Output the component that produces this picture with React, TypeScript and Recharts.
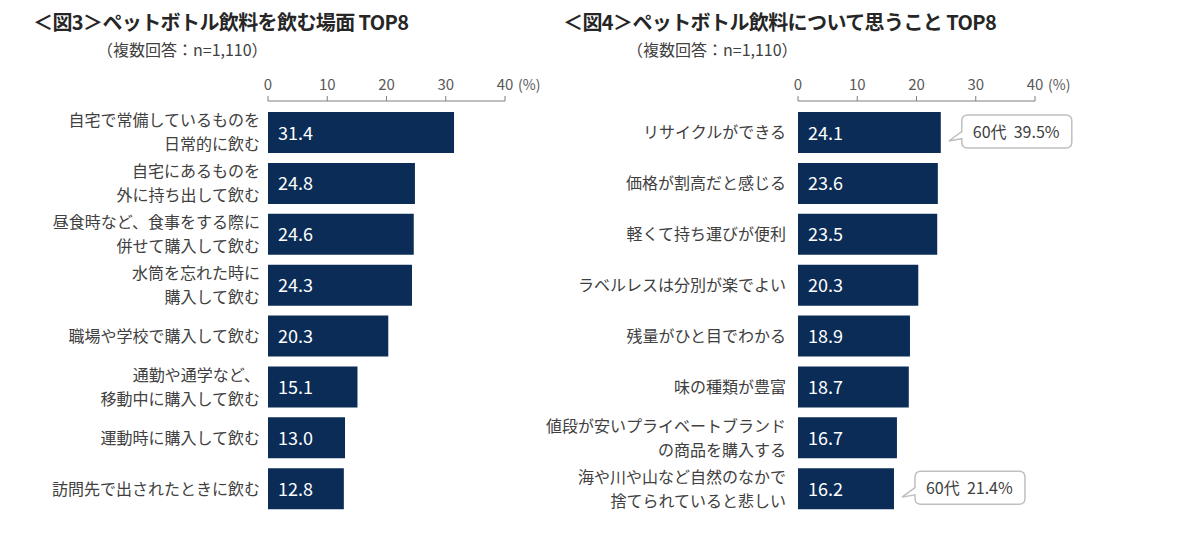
import { BarChart, Bar, XAxis, YAxis, LabelList } from 'recharts';

const sceneLabels = [
  '自宅で常備しているものを\n日常的に飲む',
  '自宅にあるものを\n外に持ち出して飲む',
  '昼食時など、食事をする際に\n併せて購入して飲む',
  '水筒を忘れた時に\n購入して飲む',
  '職場や学校で購入して飲む',
  '通勤や通学など、\n移動中に購入して飲む',
  '運動時に購入して飲む',
  '訪問先で出されたときに飲む',
];
const sceneValues = [31.4, 24.8, 24.6, 24.3, 20.3, 15.1, 13.0, 12.8];

const opinionLabels = [
  'リサイクルができる',
  '価格が割高だと感じる',
  '軽くて持ち運びが便利',
  'ラベルレスは分別が楽でよい',
  '残量がひと目でわかる',
  '味の種類が豊富',
  '値段が安いプライベートブランド\nの商品を購入する',
  '海や川や山など自然のなかで\n捨てられていると悲しい',
];
const opinionValues = [24.1, 23.6, 23.5, 20.3, 18.9, 18.7, 16.7, 16.2];
const opinionNotes = ['60代  39.5%', '', '', '', '', '', '', '60代  21.4%'];

const axisTicks = [0, 10, 20, 30, 40];

const FONT = '"Noto Sans CJK JP", "Noto Sans", sans-serif';
const NAVY = '#0a2c57';
const TEXT = '#404040';

const sceneData = sceneLabels.map((label, i) => ({ label, value: sceneValues[i], note: '' }));
const opinionData = opinionLabels.map((label, i) => ({
  label,
  value: opinionValues[i],
  note: opinionNotes[i],
}));

function PctTick(props: any) {
  const { x, y, payload } = props;
  return (
    <g>
      <text x={x} y={y} textAnchor="middle" fontSize={15} fill="#595959" fontFamily={FONT}>
        {payload.value}
      </text>
      {payload.value === 40 && (
        <text x={x + 13} y={y} textAnchor="start" fontSize={14} fill="#595959" fontFamily={FONT}>
          (%)
        </text>
      )}
    </g>
  );
}

function CatTick(props: any) {
  const { x, y, payload } = props;
  const lines = String(payload.value).split('\n');
  const lh = 24;
  return (
    <text x={x} y={y} textAnchor="end" fontSize={16} fill={TEXT} fontFamily={FONT}>
      {lines.map((l, i) => (
        <tspan key={i} x={x} dy={i === 0 ? -((lines.length - 1) * lh) / 2 + 6 : lh}>
          {l}
        </tspan>
      ))}
    </text>
  );
}

function ValueLabel(props: any) {
  const { x, y, height, value } = props;
  return (
    <text x={x + 10} y={y + height / 2 + 7} fontSize={18} fill="#ffffff" fontFamily={FONT}>
      {Number(value).toFixed(1)}
    </text>
  );
}

function Callout(props: any) {
  const { x, y, width, height, value } = props;
  if (!value) return null;
  const bx = x + width + 21;
  const by = y + 3;
  const w = 110;
  const h = 33;
  const r = 6;
  const tipX = x + width + 8;
  const tipY = y + height - 12;
  const d = [
    `M${bx + r},${by}`,
    `L${bx + w - r},${by}`,
    `Q${bx + w},${by} ${bx + w},${by + r}`,
    `L${bx + w},${by + h - r}`,
    `Q${bx + w},${by + h} ${bx + w - r},${by + h}`,
    `L${bx + r},${by + h}`,
    `Q${bx},${by + h} ${bx},${by + h - r}`,
    `L${bx},${by + h * 0.72}`,
    `L${tipX},${tipY}`,
    `L${bx},${by + h * 0.5}`,
    `L${bx},${by + r}`,
    `Q${bx},${by} ${bx + r},${by}`,
    'Z',
  ].join(' ');
  return (
    <g>
      <path d={d} fill="#ffffff" stroke="#bfbfbf" strokeWidth={1.5} />
      <text
        x={bx + 11}
        y={by + h / 2 + 6}
        fontSize={16}
        fill={TEXT}
        fontFamily={FONT}
        style={{ whiteSpace: 'pre' }}
      >
        {value}
      </text>
    </g>
  );
}

function Panel({ data, yWidth, width, tickMargin, notes }: any) {
  return (
    <BarChart
      width={width}
      height={541}
      data={data}
      layout="vertical"
      margin={{ top: 60, right: width - yWidth - 237, left: 0, bottom: 27 }}
    >
      <XAxis
        type="number"
        orientation="top"
        domain={[0, 40]}
        ticks={axisTicks}
        height={41}
        tick={<PctTick />}
        tickSize={5}
        tickMargin={6}
        stroke="#7f7f7f"
        interval={0}
      />
      <YAxis
        type="category"
        dataKey="label"
        width={yWidth}
        axisLine={false}
        tickLine={false}
        tickSize={0}
        tickMargin={tickMargin}
        padding={{ top: 6, bottom: 0 }}
        tick={<CatTick />}
        interval={0}
      />
      <Bar dataKey="value" fill={NAVY} barSize={41} isAnimationActive={false}>
        <LabelList dataKey="value" content={<ValueLabel />} />
        {notes && <LabelList dataKey="note" content={<Callout />} />}
      </Bar>
    </BarChart>
  );
}

const titleStyle: React.CSSProperties = {
  position: 'absolute',
  fontSize: 20,
  fontWeight: 700,
  letterSpacing: -0.6,
  color: '#262626',
  whiteSpace: 'pre',
  fontFamily: FONT,
  lineHeight: '24px',
};
const subStyle: React.CSSProperties = {
  position: 'absolute',
  fontSize: 16,
  color: TEXT,
  whiteSpace: 'nowrap',
  fontFamily: FONT,
  lineHeight: '20px',
};

export default function App() {
  return (
    <div
      style={{
        position: 'absolute',
        top: 0,
        left: 0,
        width: 1200,
        height: 541,
        background: '#ffffff',
        fontFamily: FONT,
      }}
    >
      <div style={{ ...titleStyle, left: 33, top: 10 }}>＜図3＞ペットボトル飲料を飲む場面 TOP8</div>
      <div style={{ ...subStyle, left: 97, top: 39 }}>（複数回答：n=1,110）</div>
      <div style={{ ...titleStyle, left: 563, top: 10 }}>＜図4＞ペットボトル飲料について思うこと TOP8</div>
      <div style={{ ...subStyle, left: 627, top: 39 }}>（複数回答：n=1,110）</div>
      <div style={{ position: 'absolute', left: 0, top: 0 }}>
        <Panel data={sceneData} yWidth={268} width={560} tickMargin={8} notes={false} />
      </div>
      <div style={{ position: 'absolute', left: 500, top: 0 }}>
        <Panel data={opinionData} yWidth={298} width={700} tickMargin={12} notes={true} />
      </div>
    </div>
  );
}
